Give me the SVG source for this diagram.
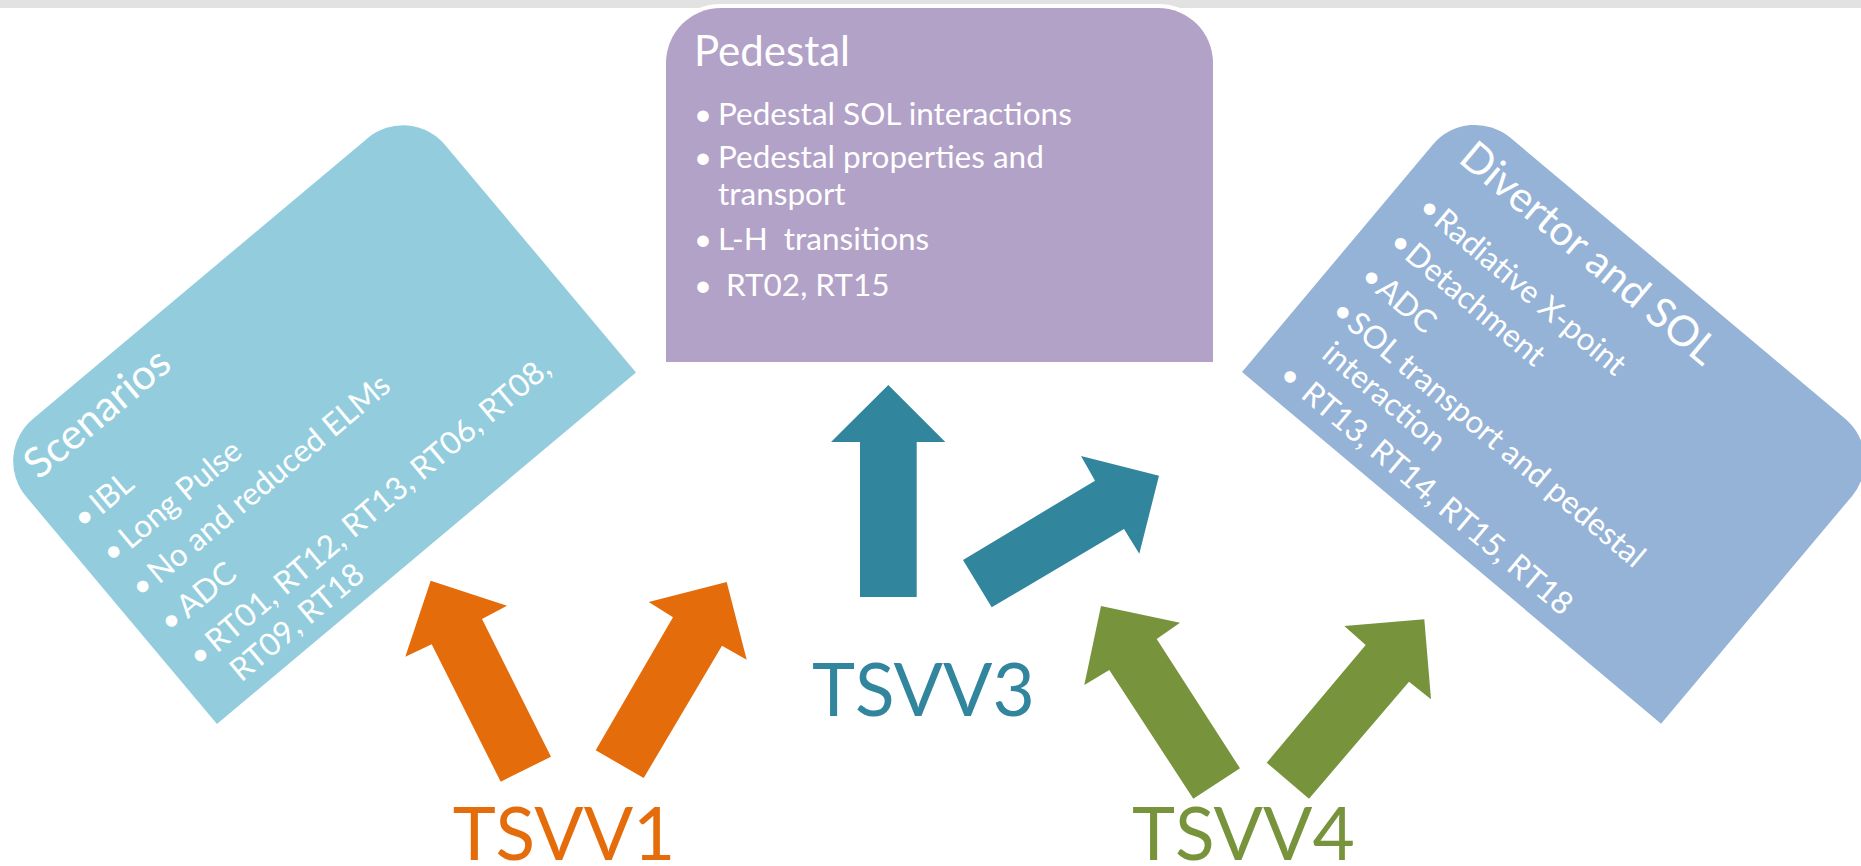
<svg xmlns="http://www.w3.org/2000/svg" width="1861" height="866" viewBox="0 0 1861 866">
<style>
.box{stroke:#fff;stroke-width:8;paint-order:stroke}
.t{font-family:Lato,"Liberation Sans",sans-serif;fill:#fff}
.title{font-size:42px}
.body{font-size:31.5px}
.dot{font-size:31px;text-anchor:middle}
.lbl{font-family:Lato,"Liberation Sans",sans-serif;font-size:73px}
</style>
<defs>
<path id="card" d="M0,352V55A55,55 0 0 1 55,0H492A55,55 0 0 1 547,55V352Z"/>
</defs>
<rect x="0" y="0" width="1861" height="8" fill="#e2e2e2"/>

<g id="scenarios" transform="translate(-9.3,454.4) rotate(-40)">
<use href="#card" class="box" fill="#93CDDD"/>
<text class="t title" x="20" y="51">Scenarios</text>
<text class="t dot" x="31.5" y="118">•</text><text class="t body" x="45" y="118">IBL</text>
<text class="t dot" x="31.5" y="163">•</text><text class="t body" x="45" y="163">Long Pulse</text>
<text class="t dot" x="31.5" y="208">•</text><text class="t body" x="45" y="208">No and reduced ELMs</text>
<text class="t dot" x="31.5" y="253">•</text><text class="t body" x="45" y="253">ADC</text>
<text class="t dot" x="31.5" y="298">•</text><text class="t body" x="45" y="298">RT01, RT12, RT13, RT06, RT08,</text>
<text class="t body" x="45" y="336">RT09, RT18</text>
</g>

<g id="pedestal">
<path class="box" fill="#B2A2C7" d="M666,362V63A55,55 0 0 1 721,8H1158A55,55 0 0 1 1213,63V362Z"/>
<text class="t title" x="694" y="66">Pedestal</text>
<text class="t dot" x="703" y="125">•</text><text class="t body" x="718" y="125">Pedestal SOL interactions</text>
<text class="t dot" x="703" y="168">•</text><text class="t body" x="718" y="168">Pedestal properties and</text>
<text class="t body" x="718" y="205">transport</text>
<text class="t dot" x="703" y="250">•</text><text class="t body" x="718" y="250" xml:space="preserve">L-H  transitions</text>
<text class="t dot" x="703" y="296">•</text><text class="t body" x="726" y="296">RT02, RT15</text>
</g>

<g id="divertor" transform="translate(1468.3,102.4) rotate(40)">
<use href="#card" class="box" fill="#95B3D7"/>
<text class="t title" x="29" y="52">Divertor and SOL</text>
<text class="t dot" x="39" y="116">•</text><text class="t body" x="50" y="116">Radiative X-point</text>
<text class="t dot" x="39" y="161">•</text><text class="t body" x="50" y="161">Detachment</text>
<text class="t dot" x="39" y="206">•</text><text class="t body" x="50" y="206">ADC</text>
<text class="t dot" x="39" y="251">•</text><text class="t body" x="50" y="251">SOL transport and pedestal</text>
<text class="t body" x="50" y="290">interaction</text>
<text class="t dot" x="40" y="334">•</text><text class="t body" x="60" y="334">RT13, RT14, RT15, RT18</text>
</g>

<g id="connectors">
<polygon fill="#E46C0A" points="430.7,580.7 507,605.7 482,619 551,756.7 500.7,781.7 431.7,644.3 405.3,656.7"/>
<polygon fill="#E46C0A" points="726.7,582 746.7,659.7 722,645.7 643.7,778 595.7,750.3 673,617.3 648.7,602"/>
<polygon fill="#31859C" points="888.3,385 945.3,442 916.7,442 916.7,597 860,597 860,442 831,442"/>
<polygon fill="#31859C" points="1159,475.7 1139.3,553.7 1124,529 991.7,607.3 963,560 1095,480.7 1081,456"/>
<polygon fill="#77933C" points="1101,606 1180,622.7 1156.7,639 1240,768.3 1193.3,798.7 1109.3,670 1084.3,685"/>
<polygon fill="#77933C" points="1424.3,619.3 1431,699.3 1409,681.7 1309,798.7 1266.7,762.7 1365.7,645 1344.3,626"/>
</g>

<g id="tsvv1"><text class="lbl" x="452.7" y="860" fill="#E46C0A">TSVV1</text></g>
<g id="tsvv3"><text class="lbl" x="812" y="716" fill="#31859C">TSVV3</text></g>
<g id="tsvv4"><text class="lbl" x="1132" y="860" fill="#77933C">TSVV4</text></g>
</svg>
